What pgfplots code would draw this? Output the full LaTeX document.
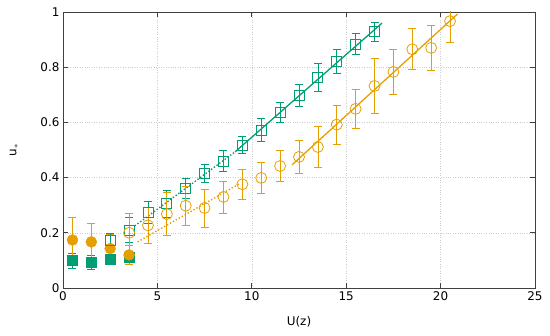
\documentclass[border=0pt]{standalone}
\usepackage{pgfplots}
\pgfplotsset{compat=1.18}
\usepackage{fontspec}
\setmainfont{DejaVu Sans}
\definecolor{cteal}{HTML}{009E73}
\definecolor{corange}{HTML}{E69F00}
\definecolor{cframe}{HTML}{404040}
\begin{document}
\begin{tikzpicture}
\useasboundingbox (-63bp,-48bp) rectangle (487bp,288bp);
\begin{axis}[
  at={(0,0)}, anchor=south west,
  scale only axis,
  width=472bp, height=276bp,
  xmin=0, xmax=25, ymin=0, ymax=1,
  xtick={0,5,...,25}, ytick={0,0.2,...,1},
  yticklabel style={/pgf/number format/fixed},
  /pgf/number format/assume math mode=true,
  tick align=inside,
  major tick length=5bp,
  axis line style={cframe, line width=0.9pt},
  tick style={cframe, line width=0.8pt},
  grid=major,
  major grid style={gray!40, dotted, line width=0.6pt},
  tick label style={font=\fontsize{12}{14}\selectfont, text=black},
  label style={font=\fontsize{12}{14}\selectfont},
  xlabel={U(z)},
  ylabel={u$_*$},
  xlabel style={at={(axis description cs:0.5,-0.123)}, anchor=center},
  ylabel style={at={(axis description cs:-0.104,0.5)}, anchor=center},
  error bars/y dir=both, error bars/y explicit,
]
% dotted & solid lines
\addplot[cteal, dotted, line width=1.4pt, no marks, forget plot, error bars/y dir=none] coordinates {(3.8,0.225) (9.11,0.493)};
\addplot[corange, dotted, line width=1.4pt, no marks, forget plot, error bars/y dir=none] coordinates {(3.95,0.167) (9.4,0.38)};
\addplot[cteal, line width=1.3pt, no marks, forget plot, error bars/y dir=none] coordinates {(9.11,0.493) (16.9,0.96)};
\addplot[corange, line width=1.3pt, no marks, forget plot, error bars/y dir=none] coordinates {(12.13,0.446) (20.9,0.993)};
% teal filled squares
\addplot[only marks, mark=square*, mark size=5bp, cteal, mark options={fill=cteal},
  error bars/error mark options={rotate=90, mark size=4bp, line width=0.7pt},
  error bars/error bar style={line width=0.7pt}]
  coordinates {(0.5,0.099) +- (0,0.027) (1.5,0.094) +- (0,0.026) (2.5,0.105) +- (0,0.012) (3.5,0.113) +- (0,0.010)};
% orange filled circles
\addplot[only marks, mark=*, mark size=5.5bp, corange, mark options={fill=corange},
  error bars/error mark options={rotate=90, mark size=4bp, line width=0.7pt},
  error bars/error bar style={line width=0.7pt}]
  coordinates {(0.5,0.174) +- (0,0.083) (1.5,0.167) +- (0,0.068) (2.5,0.143) +- (0,0.050) (3.5,0.120) +- (0,0.035)};
% teal open squares
\addplot[only marks, mark=square, mark size=5bp, cteal, mark options={line width=0.8pt},
  error bars/error mark options={rotate=90, mark size=4bp, line width=0.7pt},
  error bars/error bar style={line width=0.7pt}]
  coordinates {
  (2.5,0.174) +- (0,0.025)
  (3.5,0.210) +- (0,0.045)
  (4.5,0.275) +- (0,0.040)
  (5.5,0.305) +- (0,0.048)
  (6.5,0.361) +- (0,0.035)
  (7.5,0.415) +- (0,0.033)
  (8.5,0.460) +- (0,0.038)
  (9.5,0.518) +- (0,0.031)
  (10.5,0.572) +- (0,0.042)
  (11.5,0.636) +- (0,0.035)
  (12.5,0.697) +- (0,0.040)
  (13.5,0.763) +- (0,0.051)
  (14.5,0.820) +- (0,0.043)
  (15.5,0.884) +- (0,0.039)
  (16.5,0.928) +- (0,0.033)
  };
% orange open circles
\addplot[only marks, mark=o, mark size=5.5bp, corange, mark options={line width=0.8pt},
  error bars/error mark options={rotate=90, mark size=4bp, line width=0.7pt},
  error bars/error bar style={line width=0.7pt}]
  coordinates {
  (3.5,0.200) +- (0,0.072)
  (4.5,0.227) +- (0,0.065)
  (5.5,0.268) +- (0,0.078)
  (6.5,0.298) +- (0,0.070)
  (7.5,0.290) +- (0,0.069)
  (8.5,0.330) +- (0,0.058)
  (9.5,0.376) +- (0,0.055)
  (10.5,0.399) +- (0,0.057)
  (11.5,0.442) +- (0,0.057)
  (12.5,0.475) +- (0,0.059)
  (13.5,0.511) +- (0,0.074)
  (14.5,0.592) +- (0,0.071)
  (15.5,0.649) +- (0,0.072)
  (16.5,0.732) +- (0,0.099)
  (17.5,0.783) +- (0,0.082)
  (18.5,0.865) +- (0,0.074)
  (19.5,0.870) +- (0,0.080)
  (20.5,0.967) +- (0,0.078)
  };
\end{axis}
\end{tikzpicture}
\end{document}
